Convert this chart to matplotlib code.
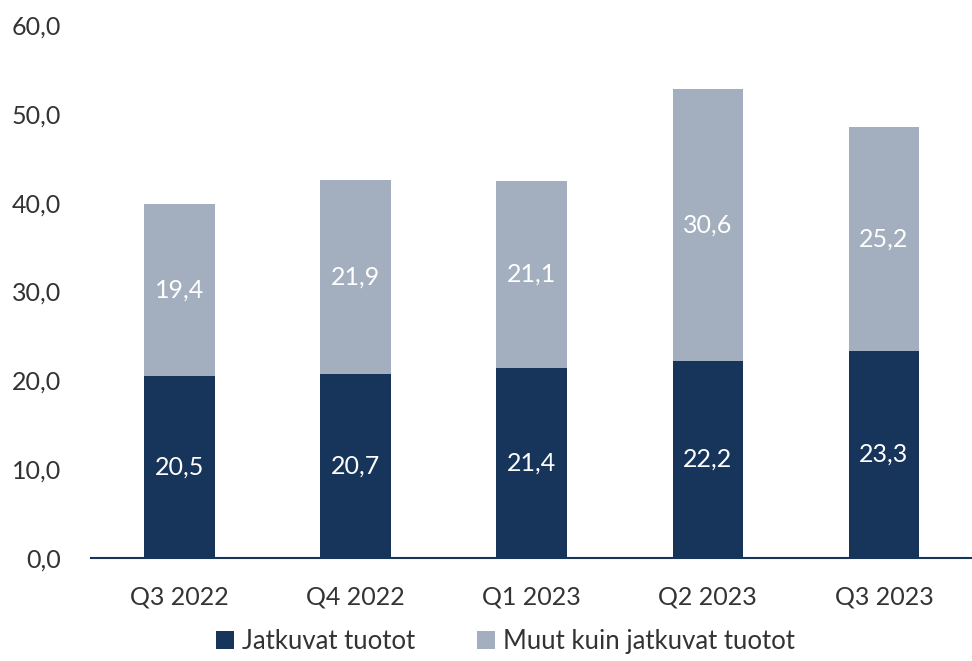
import matplotlib
matplotlib.use("Agg")
import matplotlib.pyplot as plt
import numpy as np

# data
quarters = ["Q3 2022", "Q4 2022", "Q1 2023", "Q2 2023", "Q3 2023"]
jatkuvat = [20.5, 20.7, 21.4, 22.2, 23.3]
muut = [19.4, 21.9, 21.1, 30.6, 25.2]
series_names = ["Jatkuvat tuotot", "Muut kuin jatkuvat tuotot"]

dark = "#17345a"
light = "#a3aebe"
txt = "#333333"

plt.rcParams["font.family"] = ["Lato", "DejaVu Sans"]

fig = plt.figure(figsize=(9.72, 6.61), dpi=100)
ax = fig.add_axes([0.094, 0.156, 0.906, 0.806])

x = np.arange(len(quarters))
w = 0.4
b1 = ax.bar(x, jatkuvat, w, color=dark, label=series_names[0])
b2 = ax.bar(x, muut, w, bottom=jatkuvat, color=light, label=series_names[1])

for i in range(len(quarters)):
    ax.text(x[i], jatkuvat[i] / 2, f"{jatkuvat[i]:.1f}".replace(".", ","),
            ha="center", va="center", color="white", fontsize=18)
    ax.text(x[i], jatkuvat[i] + muut[i] / 2, f"{muut[i]:.1f}".replace(".", ","),
            ha="center", va="center", color="white", fontsize=18)

ax.set_xlim(-0.5, len(quarters) - 0.5)
ax.set_ylim(0, 60)
ax.set_yticks(np.arange(0, 61, 10))
ax.set_yticklabels([f"{v:.1f}".replace(".", ",") for v in np.arange(0, 61, 10)])
ax.set_xticks(x)
ax.set_xticklabels(quarters)
ax.tick_params(axis="both", length=0, labelsize=18, colors=txt)
ax.tick_params(axis="x", pad=20)
ax.tick_params(axis="y", pad=22)

for s in ["top", "right", "left"]:
    ax.spines[s].set_visible(False)
ax.spines["bottom"].set_color(dark)
ax.spines["bottom"].set_linewidth(1.5)

leg = fig.legend(handles=[b1, b2], loc="lower center", ncol=2, frameon=False,
                 fontsize=18.5, bbox_to_anchor=(0.52, -0.025), handlelength=0.7,
                 handleheight=0.7, handletextpad=0.3, columnspacing=2.4)
for t in leg.get_texts():
    t.set_color(txt)

fig.savefig("out.png", dpi=100)
